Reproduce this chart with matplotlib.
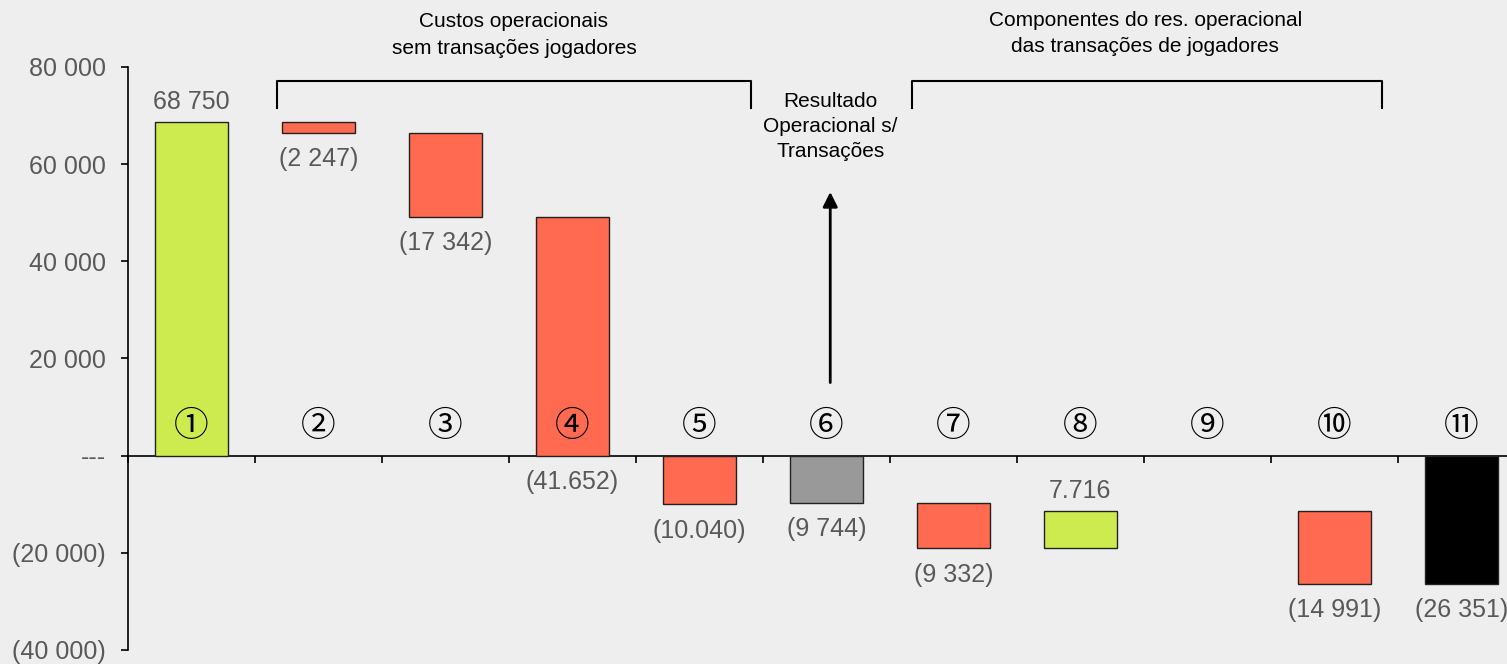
import numpy as np
import matplotlib
matplotlib.use("Agg")
import matplotlib.pyplot as plt

plt.rcParams['font.family'] = ['Liberation Sans', 'DejaVu Sans']

# Data
step_labels = ["①", "②", "③", "④", "⑤", "⑥", "⑦", "⑧", "⑨", "⑩", "⑪"]
bar_base = [0, 68750, 66503, 49161, 0, 0, -9744, -19076, 0, -11360, 0]
bar_delta = [68750, -2247, -17342, -49161, -10040, -9744, -9332, 7716, 0, -14991, -26351]
value_text = ["68 750", "(2 247)", "(17 342)", "(41.652)", "(10.040)", "(9 744)",
              "(9 332)", "7.716", "", "(14 991)", "(26 351)"]
bar_kind = ["up", "down", "down", "down", "down", "subtotal", "down", "up", "none", "down", "total"]

y_ticks = [80000, 60000, 40000, 20000, 0, -20000, -40000]
y_tick_labels = ["80 000", "60 000", "40 000", "20 000", "---", "(20 000)", "(40 000)"]

colors = {"up": "#CDEB4F", "down": "#FF6A50", "subtotal": "#999999", "total": "#000000", "none": "none"}
bg = "#EEEEEE"
text_grey = "#595959"

fig = plt.figure(figsize=(15.07, 6.64), dpi=100, facecolor=bg)
ax = fig.add_axes([0.0849, 0.0211, 0.927, 0.878], facecolor=bg)

x = np.arange(len(step_labels))

# Draw the waterfall bars
for i in range(len(x)):
    if bar_delta[i] == 0:
        continue
    ax.bar(x[i], bar_delta[i], bottom=bar_base[i], width=0.575,
           color=colors[bar_kind[i]], edgecolor="#222222", linewidth=1, zorder=3)

# Value labels above/below each bar
for i in range(len(x)):
    if value_text[i] == "":
        continue
    y_end = bar_base[i] + bar_delta[i]
    off = 14 if bar_delta[i] > 0 else -19
    ax.annotate(value_text[i], (x[i], y_end), xytext=(0, off), textcoords="offset points",
                ha="center", va="center", fontsize=18, color=text_grey)

# Circled step numbers
for i in range(len(x)):
    ax.text(x[i], 6000, step_labels[i], ha="center", va="center", fontsize=25,
            family=["Noto Sans CJK JP", "DejaVu Sans"], color="black", zorder=4)

ax.set_xlim(-0.5, 10.5)
ax.set_ylim(-40000, 80000)

ax.spines['top'].set_visible(False)
ax.spines['right'].set_visible(False)
ax.spines['bottom'].set_position(('data', 0))
ax.spines['left'].set_linewidth(1.2)
ax.spines['bottom'].set_linewidth(1.2)

ax.set_xticks(np.arange(-0.5, 11, 1))
ax.set_xticklabels([])
ax.tick_params(axis="x", direction="out", length=5, width=1.2)

ax.set_yticks(y_ticks)
ax.set_yticklabels(y_tick_labels)
ax.tick_params(axis="y", direction="out", length=5, width=1.2, labelsize=18,
               labelcolor=text_grey, pad=11)

# Brackets over the two groups
bracket_top = 77130
bracket_leg = 71570
for left, right in [(0.673, 4.406), (5.673, 9.374)]:
    ax.plot([left, left, right, right], [bracket_leg, bracket_top, bracket_top, bracket_leg],
            color="black", linewidth=1.5, clip_on=False)

fig.text(0.341, 0.947, "Custos operacionais\nsem transações jogadores",
         ha="center", va="center", fontsize=15, color="black", linespacing=1.55)
fig.text(0.760, 0.950, "Componentes do res. operacional\ndas transações de jogadores",
         ha="center", va="center", fontsize=15, color="black", linespacing=1.45)
fig.text(0.551, 0.809, "Resultado\nOperacional s/\nTransações",
         ha="center", va="center", fontsize=15, color="black", linespacing=1.4)

# Arrow pointing up to the subtotal caption
ax.annotate("", xy=(5.03, 54850), xytext=(5.03, 14470),
            arrowprops=dict(arrowstyle="-|>", color="black", lw=2, mutation_scale=22))

fig.savefig("out.png", dpi=100, facecolor=bg)
